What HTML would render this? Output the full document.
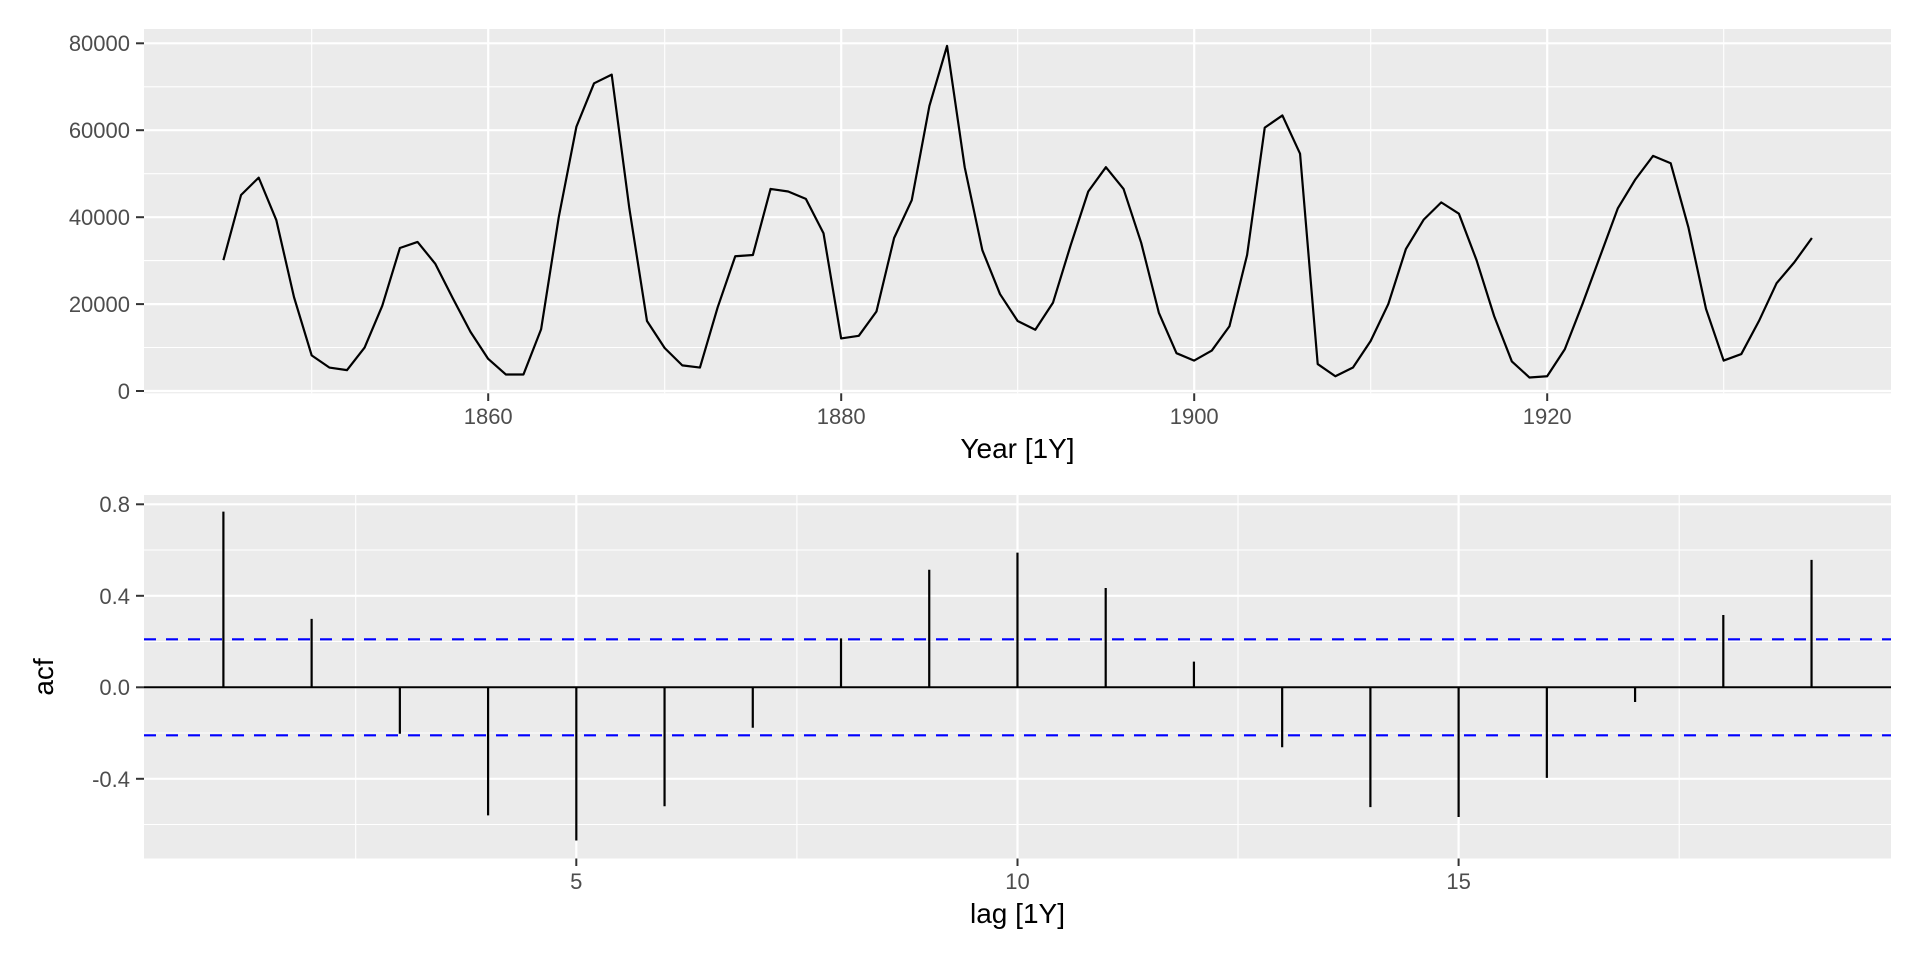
<!DOCTYPE html>
<html><head><meta charset="utf-8"><style>
html,body{margin:0;padding:0;background:#fff;}
svg{display:block;font-family:"Liberation Sans",sans-serif;}
</style></head><body>
<svg width="1920" height="960" viewBox="0 0 1920 960" xmlns="http://www.w3.org/2000/svg">
<rect width="1920" height="960" fill="#fff"/>
<!-- TOP PANEL -->
<rect x="144" y="29" width="1747" height="364.3" fill="#EBEBEB"/>
<g stroke="#fff" stroke-width="1.1">
<line x1="144" x2="1891" y1="347.5" y2="347.5"/><line x1="144" x2="1891" y1="260.6" y2="260.6"/>
<line x1="144" x2="1891" y1="173.7" y2="173.7"/><line x1="144" x2="1891" y1="86.8" y2="86.8"/>
<line x1="311.7" x2="311.7" y1="29" y2="393.3"/><line x1="664.7" x2="664.7" y1="29" y2="393.3"/>
<line x1="1017.7" x2="1017.7" y1="29" y2="393.3"/><line x1="1370.7" x2="1370.7" y1="29" y2="393.3"/>
<line x1="1723.7" x2="1723.7" y1="29" y2="393.3"/>
</g>
<g stroke="#fff" stroke-width="2.2">
<line x1="144" x2="1891" y1="391" y2="391"/><line x1="144" x2="1891" y1="304.1" y2="304.1"/>
<line x1="144" x2="1891" y1="217.2" y2="217.2"/><line x1="144" x2="1891" y1="130.2" y2="130.2"/>
<line x1="144" x2="1891" y1="43.3" y2="43.3"/>
<line x1="488.2" x2="488.2" y1="29" y2="393.3"/><line x1="841.2" x2="841.2" y1="29" y2="393.3"/>
<line x1="1194.2" x2="1194.2" y1="29" y2="393.3"/><line x1="1547.2" x2="1547.2" y1="29" y2="393.3"/>
</g>
<polyline transform="translate(223.4,391) scale(17.65,-4.346)" vector-effect="non-scaling-stroke" fill="none" stroke="#000" stroke-width="2.2" stroke-linejoin="round"
points="0,30.1 1,45.1 2,49.1 3,39.3 4,21.6 5,8.2 6,5.4 7,4.8 8,10 9,19.6 10,32.9 11,34.3 12,29.3 13,21.3 14,13.6 15,7.4 16,3.8 17,3.8 18,14.2 19,40 20,60.8 21,70.8 22,72.8 23,42 24,16.1 25,9.9 26,5.9 27,5.4 28,19.2 29,31 30,31.3 31,46.5 32,45.9 33,44.2 34,36.3 35,12.1 36,12.7 37,18.3 38,35.2 39,43.9 40,65.6 41,79.4 42,51.5 43,32.4 44,22.3 45,16.1 46,14.1 47,20.3 48,33.5 49,45.9 50,51.5 51,46.5 52,34.1 53,18 54,8.7 55,7 56,9.3 57,14.9 58,31.3 59,60.6 60,63.4 61,54.6 62,6.2 63,3.4 64,5.4 65,11.5 66,20 67,32.7 68,39.4 69,43.4 70,40.8 71,30.1 72,17.2 73,6.8 74,3.1 75,3.4 76,9.6 77,20 78,31 79,42 80,48.7 81,54.1 82,52.4 83,37.7 84,18.9 85,7 86,8.5 87,16.1 88,24.8 89,29.6 90,35.2"/>
<g stroke="#333" stroke-width="2">
<line x1="136" x2="144" y1="391" y2="391"/><line x1="136" x2="144" y1="304.1" y2="304.1"/>
<line x1="136" x2="144" y1="217.2" y2="217.2"/><line x1="136" x2="144" y1="130.2" y2="130.2"/>
<line x1="136" x2="144" y1="43.3" y2="43.3"/>
<line x1="488.2" x2="488.2" y1="393.3" y2="401"/><line x1="841.2" x2="841.2" y1="393.3" y2="401"/>
<line x1="1194.2" x2="1194.2" y1="393.3" y2="401"/><line x1="1547.2" x2="1547.2" y1="393.3" y2="401"/>
</g>
<g fill="#4D4D4D" font-size="22" text-anchor="end">
<text x="130" y="399">0</text><text x="130" y="312">20000</text><text x="130" y="225">40000</text>
<text x="130" y="138">60000</text><text x="130" y="51">80000</text>
</g>
<g fill="#4D4D4D" font-size="22" text-anchor="middle">
<text x="488.2" y="424">1860</text><text x="841.2" y="424">1880</text>
<text x="1194.2" y="424">1900</text><text x="1547.2" y="424">1920</text>
</g>
<text x="1017.5" y="458" font-size="28" text-anchor="middle" fill="#000">Year [1Y]</text>

<!-- BOTTOM PANEL -->
<rect x="144" y="495" width="1747" height="363.5" fill="#EBEBEB"/>
<g stroke="#fff" stroke-width="1.1">
<line x1="144" x2="1891" y1="824.5" y2="824.5"/><line x1="144" x2="1891" y1="733" y2="733"/>
<line x1="144" x2="1891" y1="641.5" y2="641.5"/><line x1="144" x2="1891" y1="550" y2="550"/>
<line x1="355.7" x2="355.7" y1="495" y2="858.5"/><line x1="796.9" x2="796.9" y1="495" y2="858.5"/>
<line x1="1238" x2="1238" y1="495" y2="858.5"/><line x1="1679.2" x2="1679.2" y1="495" y2="858.5"/>
</g>
<g stroke="#fff" stroke-width="2.2">
<line x1="144" x2="1891" y1="778.8" y2="778.8"/><line x1="144" x2="1891" y1="687.3" y2="687.3"/>
<line x1="144" x2="1891" y1="595.8" y2="595.8"/><line x1="144" x2="1891" y1="504.3" y2="504.3"/>
<line x1="576.3" x2="576.3" y1="495" y2="858.5"/><line x1="1017.5" x2="1017.5" y1="495" y2="858.5"/>
<line x1="1458.6" x2="1458.6" y1="495" y2="858.5"/>
</g>
<g stroke="#0000FF" stroke-width="2.2" stroke-dasharray="12,10">
<line x1="144" x2="1891" y1="639.3" y2="639.3"/><line x1="144" x2="1891" y1="735.3" y2="735.3"/>
</g>
<line x1="144" x2="1891" y1="687.3" y2="687.3" stroke="#000" stroke-width="2"/>
<path transform="translate(135.17,687.3) scale(88.23,-228.75)" vector-effect="non-scaling-stroke" fill="none" stroke="#000" stroke-width="2.2"
d="M1,0V0.768 M2,0V0.299 M3,0V-0.203 M4,0V-0.56 M5,0V-0.67 M6,0V-0.52 M7,0V-0.177 M8,0V0.214 M9,0V0.514 M10,0V0.589 M11,0V0.434 M12,0V0.112 M13,0V-0.262 M14,0V-0.524 M15,0V-0.567 M16,0V-0.396 M17,0V-0.064 M18,0V0.316 M19,0V0.557"/>
<g stroke="#333" stroke-width="2">
<line x1="136" x2="144" y1="778.8" y2="778.8"/><line x1="136" x2="144" y1="687.3" y2="687.3"/>
<line x1="136" x2="144" y1="595.8" y2="595.8"/><line x1="136" x2="144" y1="504.3" y2="504.3"/>
<line x1="576.3" x2="576.3" y1="858.5" y2="866"/><line x1="1017.5" x2="1017.5" y1="858.5" y2="866"/>
<line x1="1458.6" x2="1458.6" y1="858.5" y2="866"/>
</g>
<g fill="#4D4D4D" font-size="22" text-anchor="end">
<text x="130" y="787">-0.4</text><text x="130" y="695">0.0</text>
<text x="130" y="604">0.4</text><text x="130" y="512">0.8</text>
</g>
<g fill="#4D4D4D" font-size="22" text-anchor="middle">
<text x="576.3" y="889">5</text><text x="1017.5" y="889">10</text><text x="1458.6" y="889">15</text>
</g>
<text x="1017.5" y="923" font-size="28" text-anchor="middle" fill="#000">lag [1Y]</text>
<text transform="translate(53,677) rotate(-90)" font-size="28" text-anchor="middle" fill="#000">acf</text>
</svg>
</body></html>
